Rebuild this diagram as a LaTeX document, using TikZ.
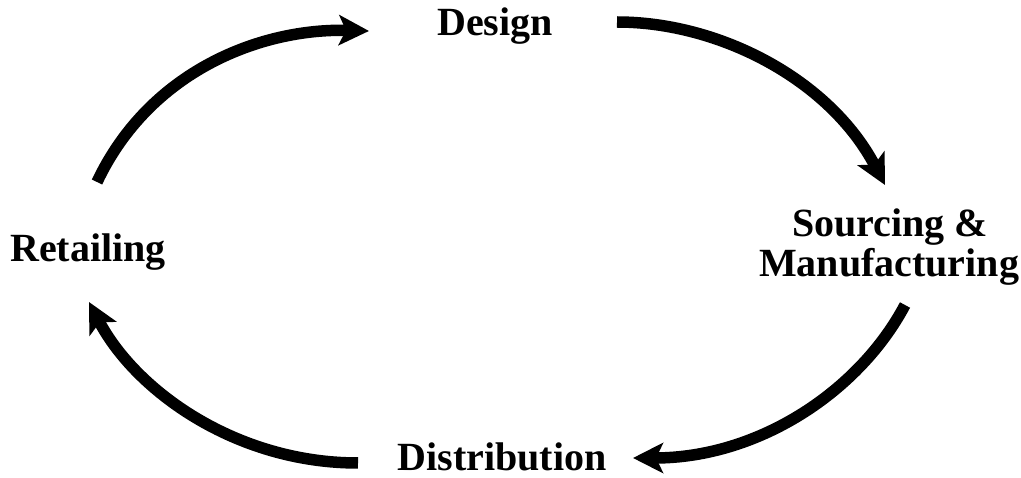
\documentclass[tikz,border=0pt]{standalone}
\newif\ifpalat
\IfFileExists{t1ppl.fd}{\IfFileExists{pplb8t.tfm}{\palattrue}{}}{}
\ifpalat
  \usepackage[T1]{fontenc}
  \renewcommand{\rmdefault}{ppl}
\else
  \usepackage{fontspec}
  \setmainfont{Liberation Serif}
\fi
\usetikzlibrary{arrows.meta}
\tikzset{
  lbl/.style={font=\fontsize{40}{44}\selectfont\bfseries, anchor=base, inner sep=0pt, align=center},
  cyc/.style={line width=11.5pt, -{Stealth[length=30pt,width=30pt,inset=7pt]}}
}
\begin{document}
\begin{tikzpicture}[x=1pt,y=-1pt]
\useasboundingbox (0,0) rectangle (1021,478);
\node[lbl] (design) at (495,36) {Design};
\node[lbl] (retail) at (88,262) {Retailing};
\node[lbl] (src) at (890,237) {Sourcing \&};
\node[lbl] (manu) at (889,277) {Manufacturing};
\node[lbl] (dist) at (502,471) {Distribution};
\coordinate (a1s) at (97,182);
\coordinate (a1e) at (369,31);
\coordinate (a2s) at (617,22);
\coordinate (a2e) at (885,185);
\coordinate (a3s) at (905,305);
\coordinate (a3e) at (633,458);
\coordinate (a4s) at (358,463);
\coordinate (a4e) at (89,302);
\draw[cyc] (a1s) .. controls (150,70) and (262,28) .. (a1e);
\draw[cyc] (a2s) .. controls (720,22) and (830,80) .. (a2e);
\draw[cyc] (a3s) .. controls (860,390) and (760,458) .. (a3e);
\draw[cyc] (a4s) .. controls (235,463) and (135,390) .. (a4e);
\end{tikzpicture}
\end{document}
